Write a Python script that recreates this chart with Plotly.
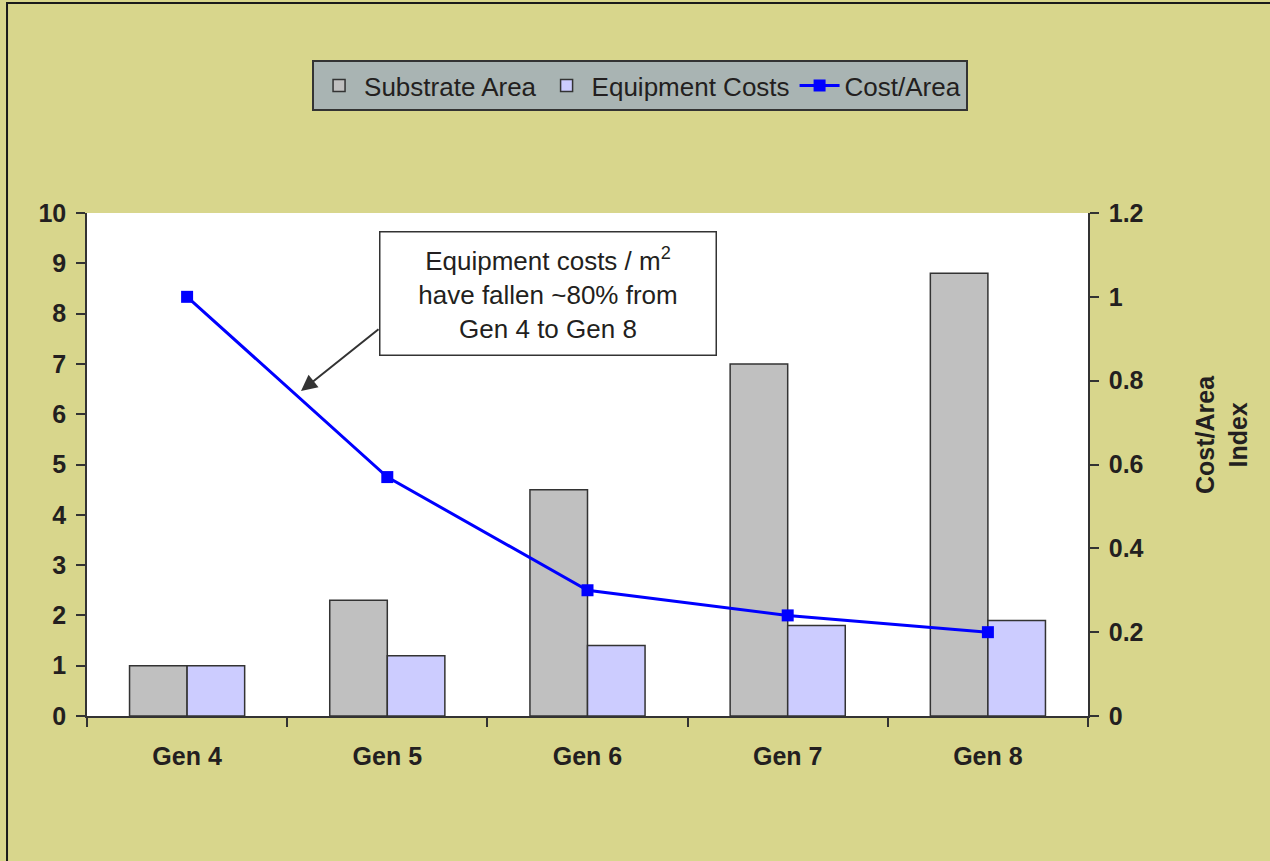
import plotly.graph_objects as go

# Panel generations and their indexed values
generations = ["Gen 4", "Gen 5", "Gen 6", "Gen 7", "Gen 8"]
substrate_area = [1.0, 2.3, 4.5, 7.0, 8.8]
equipment_costs = [1.0, 1.2, 1.4, 1.8, 1.9]
cost_per_area = [1.0, 0.57, 0.30, 0.24, 0.20]

left_ticks = list(range(0, 11))
right_ticks = [0, 0.2, 0.4, 0.6, 0.8, 1, 1.2]
right_ticklabels = ["0", "0.2", "0.4", "0.6", "0.8", "1", "1.2"]

FONT = "Liberation Sans, Arial, Helvetica, sans-serif"
INK = "#231F20"
OUTLINE = "#333333"

fig = go.Figure()

fig.add_trace(go.Bar(
    name="Substrate Area", x=generations, y=substrate_area,
    marker=dict(color="#C0C0C0", line=dict(color=OUTLINE, width=1.5)),
))
fig.add_trace(go.Bar(
    name="Equipment Costs", x=generations, y=equipment_costs,
    marker=dict(color="#CCCCFF", line=dict(color=OUTLINE, width=1.5)),
))
fig.add_trace(go.Scatter(
    name="Cost/Area", x=generations, y=cost_per_area, yaxis="y2",
    mode="lines+markers",
    line=dict(color="#0000FF", width=3),
    marker=dict(color="#0000FF", symbol="square", size=12),
))

axis_common = dict(
    showline=True, linecolor=OUTLINE, linewidth=1.5,
    ticks="outside", ticklen=9, tickwidth=1.5, tickcolor=OUTLINE,
    showgrid=False, zeroline=False,
    tickfont=dict(family=FONT, size=25, color=INK, weight="bold"),
)

fig.update_layout(
    width=1270, height=861,
    margin=dict(l=87, r=182, t=213, b=145),
    paper_bgcolor="#D8D68C",
    plot_bgcolor="#FFFFFF",
    barmode="group", bargap=0.425, bargroupgap=0,
    xaxis=dict(**axis_common, tickson="boundaries", ticklabelstandoff=17),
    yaxis=dict(**axis_common, range=[0, 10], tickvals=left_ticks,
               ticklabelstandoff=5),
    yaxis2=dict(**axis_common, range=[0, 1.2], overlaying="y", side="right",
                tickvals=right_ticks, ticktext=right_ticklabels,
                ticklabelstandoff=5),
    legend=dict(
        orientation="h", x=0.5525, y=1.304, xanchor="center", yanchor="top",
        bgcolor="#A9B4B3", bordercolor=OUTLINE, borderwidth=2,
        font=dict(family=FONT, size=26, color=INK),
        itemwidth=40,
    ),
    showlegend=True,
)

# Right-hand axis title (two stacked lines, rotated)
fig.add_annotation(
    xref="paper", yref="paper", x=1.134, y=0.559,
    xanchor="center", yanchor="middle",
    text="<b>Cost/Area<br>Index</b>", textangle=-90, showarrow=False,
    font=dict(family=FONT, size=25, color=INK),
)

# Callout box
fig.add_annotation(
    xref="paper", yref="paper", x=0.461, y=0.839,
    xanchor="center", yanchor="middle",
    text="Equipment costs / m<sup>2</sup><br>have fallen ~80% from<br>Gen 4 to Gen 8",
    showarrow=False, align="center",
    font=dict(family=FONT, size=26, color=INK),
    bgcolor="#FFFFFF", bordercolor=OUTLINE, borderwidth=1.5,
    width=323, height=110, borderpad=6,
)
# Callout pointer onto the Cost/Area line
fig.add_annotation(
    xref="paper", yref="paper", x=0.2138, y=0.646,
    text="", showarrow=True, ax=79, ay=-63,
    arrowhead=2, arrowsize=1.6, arrowwidth=2, arrowcolor=OUTLINE,
)

# Outer frame of the figure
fig.add_shape(
    type="rect", xref="paper", yref="paper",
    x0=-0.0799, x1=1.25, y0=-0.45, y1=1.4175,
    line=dict(color="#1A1A1A", width=2), fillcolor="rgba(0,0,0,0)",
)

fig.write_html("out.html")
